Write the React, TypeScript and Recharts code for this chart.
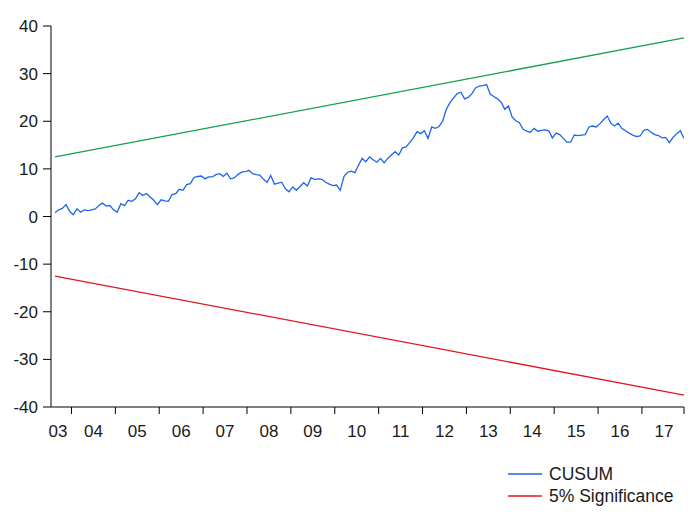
import React from 'react';
import { LineChart, Line, XAxis, YAxis, Legend } from 'recharts';

// CUSUM of recursive residuals, monthly, 2003M08 .. 2017M12 (173 obs)
const cusum = [
  0.8, 1.4, 1.7, 2.5, 1.1, 0.35, 1.6, 0.9, 1.4, 1.25,
  1.4, 1.6, 2.3, 2.8, 2.2, 2.3, 1.4, 0.9, 2.7, 2.3,
  3.4, 3.2, 3.7, 5.0, 4.4, 4.8, 4.1, 3.4, 2.5, 3.5,
  3.3, 3.2, 4.6, 4.8, 5.7, 5.5, 6.7, 6.9, 8.2, 8.4,
  8.5, 7.9, 8.3, 8.3, 8.8, 9.0, 8.4, 9.1, 7.9, 8.1,
  8.8, 9.3, 9.4, 9.7, 9.0, 8.8, 8.7, 7.8, 7.2, 8.6,
  6.8, 7.0, 7.2, 5.8, 5.2, 6.2, 5.5, 6.3, 7.1, 6.4,
  8.1, 7.8, 7.9, 7.8, 7.2, 6.8, 6.5, 6.6, 5.5, 8.4,
  9.3, 9.5, 9.2, 10.8, 12.2, 11.5, 12.5, 11.9, 11.4, 12.2,
  11.3, 12.2, 12.9, 13.6, 12.9, 14.4, 14.6, 15.5, 16.5, 17.8,
  17.4, 18.0, 16.4, 18.8, 18.5, 18.9, 20.0, 22.5, 23.9, 24.9,
  25.8, 26.1, 24.7, 25.0, 25.8, 27.0, 27.4, 27.5, 27.7, 25.7,
  25.2, 24.7, 24.0, 22.5, 23.2, 20.9, 20.1, 19.7, 18.3, 17.9,
  17.7, 18.5, 17.9, 18.1, 18.2, 18.0, 16.5, 17.5, 17.2, 16.4,
  15.6, 15.6, 17.1, 17.0, 17.1, 17.2, 18.8, 19.0, 18.8, 19.5,
  20.3, 21.1, 19.6, 19.0, 19.6, 18.5, 18.0, 17.5, 17.1, 16.8,
  16.9, 18.1, 18.3, 17.7, 17.2, 17.0, 16.5, 16.6, 15.5, 16.6,
  17.4, 18.0, 16.4,
];

// 5% significance bounds (straight lines, first and last observation)
const upperBound = [12.5, 37.5];
const lowerBound = [-12.5, -37.5];

const yearLabels = ['03', '04', '05', '06', '07', '08', '09', '10', '11', '12', '13', '14', '15', '16', '17'];
const yTicks = [-40, -30, -20, -10, 0, 10, 20, 30, 40];
const legendNames = ['CUSUM', '5% Significance'];

const last = cusum.length - 1;
const cusumData = cusum.map((v, t) => ({ t, v }));
const upperData = [{ t: 0, v: upperBound[0] }, { t: last, v: upperBound[1] }];
const lowerData = [{ t: 0, v: lowerBound[0] }, { t: last, v: lowerBound[1] }];

// tick marks sit between Dec and Jan; labels centred in each year
const yearBreaks = yearLabels.slice(1).map((_, k) => 4.5 + k * 12).concat(last);
const labelPos = yearLabels.map((_, k) => (k === 0 ? 0.8 : k * 12 - 1.5));
const xTicks = [...yearBreaks, ...labelPos].sort((a, b) => a - b);

const FONT = 'Arial, "Liberation Sans", sans-serif';

const YearTick = (props: any) => {
  const { x, y, payload } = props;
  const idx = labelPos.indexOf(payload.value);
  if (idx >= 0) {
    return (
      <text x={x} y={y + 30} textAnchor="middle" fontSize={17} fontFamily={FONT} fill="#1a1a1a">
        {yearLabels[idx]}
      </text>
    );
  }
  return <line x1={x} y1={y} x2={x} y2={y + 7} stroke="#000" strokeWidth={1} />;
};

// only the CUSUM line and the lower band go in the key, in that order
const LegendBox = (props: any) => {
  const items = ((props.payload || []) as any[])
    .filter((it) => legendNames.includes(it.value))
    .sort((a, b) => legendNames.indexOf(a.value) - legendNames.indexOf(b.value));
  return (
    <div style={{ fontFamily: FONT, fontSize: 17.5, color: '#1a1a1a' }}>
      {items.map((it) => (
        <div key={it.value} style={{ display: 'flex', alignItems: 'center', height: 22 }}>
          <svg width={34} height={22} style={{ marginRight: 7 }}>
            <line x1={0} y1={11} x2={34} y2={11} stroke={it.color} strokeWidth={1.3} />
          </svg>
          <span>{it.value}</span>
        </div>
      ))}
    </div>
  );
};

export default function App() {
  return (
    <div style={{ width: 685, height: 510 }}>
      <LineChart width={685} height={510} margin={{ top: 18, right: 9, bottom: 71, left: 0 }}>
        <XAxis
          dataKey="t"
          type="number"
          domain={[-1.1, last]}
          allowDataOverflow
          ticks={xTicks}
          interval={0}
          tickLine={false}
          tickSize={0}
          tickMargin={0}
          height={40}
          stroke="#000"
          tick={<YearTick />}
        />
        <YAxis
          type="number"
          domain={[-40, 40]}
          ticks={yTicks}
          interval={0}
          width={43}
          tickSize={8}
          tickMargin={5}
          stroke="#000"
          tick={{ fontSize: 17, fontFamily: FONT, fill: '#1a1a1a' }}
        />
        <Legend
          layout="vertical"
          align="center"
          verticalAlign="middle"
          wrapperStyle={{ left: 500, top: 455, width: 185 }}
          content={<LegendBox />}
        />
        <Line
          data={cusumData}
          dataKey="v"
          name="CUSUM"
          type="linear"
          stroke="#1e66e8"
          strokeWidth={1.3}
          dot={false}
          isAnimationActive={false}
        />
        <Line
          data={lowerData}
          dataKey="v"
          name="5% Significance"
          type="linear"
          stroke="#e3161e"
          strokeWidth={1.3}
          dot={false}
          isAnimationActive={false}
        />
        <Line
          data={upperData}
          dataKey="v"
          name="upper"
          type="linear"
          stroke="#14a04e"
          strokeWidth={1.3}
          dot={false}
          legendType="none"
          isAnimationActive={false}
        />
      </LineChart>
    </div>
  );
}
